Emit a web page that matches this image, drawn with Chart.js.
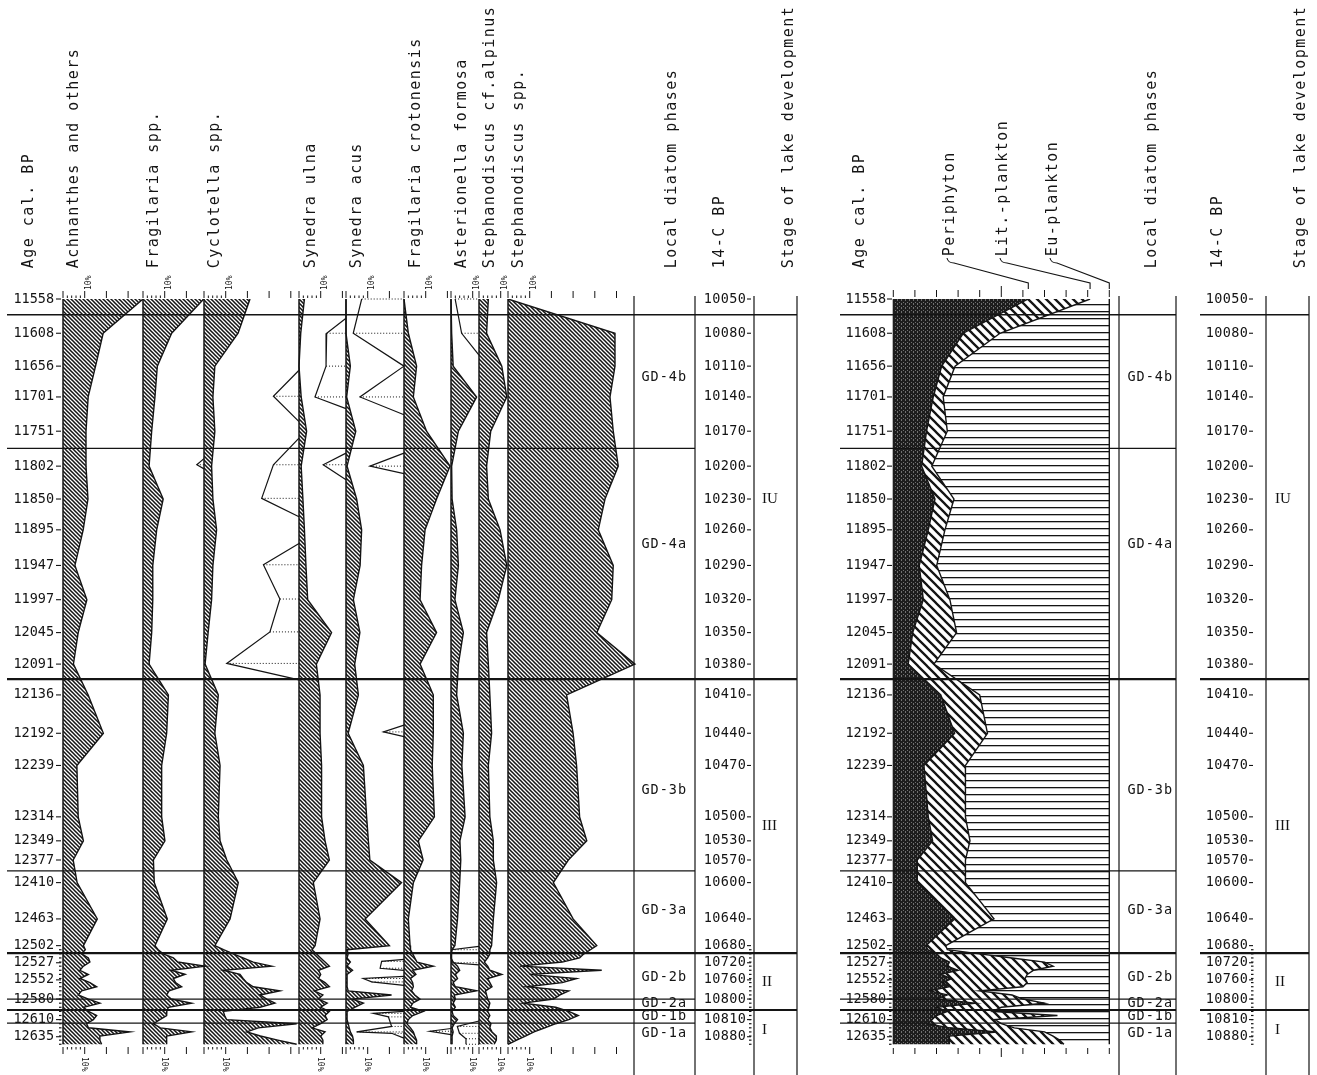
<!DOCTYPE html>
<html><head><meta charset="utf-8">
<script src="https://cdn.jsdelivr.net/npm/chart.js@4.4.1/dist/chart.umd.min.js"></script>
<style>html,body{margin:0;padding:0;background:#fff;}canvas{display:block;}</style>
</head><body>
<canvas id="c" width="1317" height="1075"></canvas>
<script>
// ---------------- DATA ----------------
const sampleAges = [11558,11608,11656,11701,11751,11802,11850,11895,11947,11997,12045,12091,12136,12192,12239,12314,12349,12377,12410,12463,12502,
 12508,12514,12520,12526,12532,12538,12544,12550,12556,12562,12568,12574,12580,12586,12592,12598,12604,12610,12616,12622,12628,12634,12640,12646];
const achnanthes = [36.9,18.5,15,11.6,10.6,10.6,11.5,9.3,5.5,11,7,4.8,11.6,18.6,6.4,7,9.4,4.7,6.5,15.8,9.4,
 10.3,8.6,11.7,12.4,9.4,7.8,11.7,7.8,12.4,15.5,8.6,7,11.7,17,9.4,11.7,15.5,14,10.9,11.7,30.8,17,17,17.8];
const fragilaria = [28,13.2,6.6,5.5,4,2.8,9.3,6.3,4.5,4.5,4,2.8,11.7,10.9,8.6,8.6,10.1,4.8,5.2,11.2,5.5,
 7,9.3,14,16,28.6,13,19.4,14,15,17.8,12,10.9,13,22.4,11.7,11,10.9,7.8,4.8,8,22.4,10.9,10.9,10.9];
const cyclotella = [21.2,15.7,5,4.1,5,3.5,4.1,5.8,4.1,3.5,1.9,0.5,6.6,5,7.4,6.6,7.4,10.5,15.8,12,5,
 9,13.5,18,22.7,31.2,8.9,16.6,18,19.7,22.7,35,25.8,28.9,32.7,25.8,8.9,9.5,10.4,42.7,25,19.7,26,34,42.7];
const synedraUlna = [2.5,0.8,0,1,3.5,1,1.8,2.5,3.2,4,15,8,9.7,9.7,10.4,10.4,12,14,6.6,9.7,7.4,
 6,8,10,12,14,9,10,9,12,14,7,11,9,13,10,14,12,13,10,6,12,10,11,11];
const synedraAcus = [0,0,2,0.3,4.5,0.5,4.9,7.2,6.5,3.4,6.4,4,5.7,1,8,9.5,10.3,11,25.6,8.8,20,
 0.5,1,0.5,2,0.5,3,0.5,0.5,0.5,0.5,1,21,3,8,4,0.5,0.5,0.5,1,1.5,2,3,3.4,3.4];
const fragCrotonensis = [0,2,5.8,4.3,10.4,21.2,15,9.7,8.1,7.4,15,7.4,13.5,13.5,13,14,6.6,8.8,4.3,2,2.8,
 3,4,5,6,13.5,4,5.5,3,4,4.3,3.5,5,7.4,4,3,9,4,2,1.3,3,4.3,5,5.8,5.8];
const asterionella = [0,0.3,1,11.8,3.4,0.3,0.5,2.6,3.4,1.8,5.7,3.4,2.6,5.7,5,6.5,4.1,4.5,4,3,1.8,
 0.5,0,0,1,3,4,2,3,1,2,11.8,1.5,2,1,2,0.5,1,3,1.5,0.5,1,0.5,0.5,0.5];
const stephAlpinus = [4.3,3.5,10.5,12.8,5.4,3.5,4.3,9.7,12.8,8.9,3.5,4.3,5,5.8,4.3,5,6.6,6.6,8.1,6.6,5.8,
 5,5,4,2.5,4,5,10.5,4,5,6,3,3.5,4,5,4.5,4,5,4,5.5,5,6,8,8,7];
const stephanodiscus = [0,49.3,49.3,47,48.5,50.8,44.7,41.6,48.5,47.8,40.9,58.5,27,30,31.6,33,36.3,27.8,20.9,30,40.9,
 38,35,33,25,5.5,43.2,10,31.6,25,8.6,28,24,21,7,22,28,32.4,28,22,17,12,8,4,0];

// ecological groups (right diagram), % of total
const periphyton = [62.5,32.4,22.4,18.5,15.4,13.1,19.3,16.2,12,13.9,9,6.9,22,28.4,14.2,16.2,18.2,11.1,11.1,28.4,15.1,
 16,20,22,26,25,30,22,27,23,26,17,25,20,38,20,25,20,18,16,26,48,26,26,26];
const litPlankton = [28.6,17,6.2,4.6,9.6,4.7,8.8,7.7,8.1,12.3,20.3,11.9,18,15.2,19.2,17.2,17.3,22.3,22.3,18.2,9.2,
 9,20,33,44,49,35,40,34,39,34,23,30,40,32,30,21,56,29,34,30,22,48,51,53];
const euPlankton = [8.9,50.6,71.4,76.9,75,82.2,71.9,76.1,79.9,73.8,70.7,81.2,60,56.4,66.6,66.6,64.5,66.6,66.6,53.4,75.7,
 75,60,45,30,26,35,38,39,38,40,60,45,40,30,50,54,24,53,50,44,30,26,23,21];

// x10 exaggeration outlines (drawn to the left of the baseline), null = break
const ulnaExagAges = [11662,11700,11737,null,11761,11800,11849,11876,null,11915,11946,11996,12044,12090,12114];
const ulnaExagVals = [0,-11.8,0,null,0,-11.8,-17.2,0,null,0,-16.4,-8.8,-13.4,-33.3,0];
const acusExagAges = [11586,11608,11656,11701,11718,null,11783,11800,11822];
const acusExagVals = [0,-8.9,-9.2,-14.3,0,null,0,-10.5,0];
const crotExagAges = [11558,11608,11656,11701,11727,null,11783,11802,11813,null,12180,12190,12197,null,12522,12525,12535,12538,null,12547,12550,12555,12560,null,12598,12601,12606,12620,12628,12630,12637];
const crotExagVals = [-19.5,-23.4,0,-20.3,0,null,0,-15.7,0,null,0,-9.5,0,null,0,-10.3,-11,0,null,0,-18.8,-14.9,0,null,0,-14.1,-7.2,-5.7,-21.8,-5.7,0];
const cycExagAges = [11791,11800,11806];
const cycExagVals = [0,-3.3,0];
const astExagAges = [12623,12627,12632];
const astExagVals = [0,-9.7,0];
const alpExagAges = [11558,11608,11640,null,12503,12508,12527,12530,null,12612,12620,12630,12638,12646];
const alpExagVals = [-11,-8,0,null,0,-12.6,-12.6,0,null,0,-10,-9,-6,-6];

// tick labels
const ageTickLabels = [11558,11608,11656,11701,11751,11802,11850,11895,11947,11997,12045,12091,12136,12192,12239,12314,12349,12377,12410,12463,12502,12527,12552,12580,12610,12635];
const c14Labels = [10050,10080,10110,10140,10170,10200,10230,10260,10290,10320,10350,10380,10410,10440,10470,10500,10530,10570,10600,10640,10680,10720,10760,10800,10810,10880];
const zoneBounds = [11581,11776,12113,12393,12513,12580,12596,12615];
const stageBounds = [11581,12113,12513,12596];
const phaseNames = ['GD-4b','GD-4a','GD-3b','GD-3a','GD-2b','GD-2a','GD-1b','GD-1a'];
const phaseLabelAges = [11672,11917,12275,12450,12549,12586,12606,12630];
const stageNames = ['IU','III','II','I'];
const stageLabelAges = [11850,12327,12555,12625];

// ---------------- LAYOUT / STYLE ----------------
const W = 1317, H = 1075, INK = '#141414';
const AGE_MIN = 11558, AGE_MAX = 12650;
const PX = 2.17;
const panels = [
 {key:'ach', name:'Achnanthes and others', values:achnanthes, base:63, ticks:[0,10,20,30], hx:74},
 {key:'fra', name:'Fragilaria spp.', values:fragilaria, base:143, ticks:[0,10,20], hx:154},
 {key:'cyc', name:'Cyclotella spp.', values:cyclotella, base:204, ticks:[0,10,20,30,40], hx:215},
 {key:'uln', name:'Synedra ulna', values:synedraUlna, base:299, ticks:[0,10,20], hx:311},
 {key:'acu', name:'Synedra acus', values:synedraAcus, base:346, ticks:[0,10,20], hx:357},
 {key:'cro', name:'Fragilaria crotonensis', values:fragCrotonensis, base:404, ticks:[0,10,20], hx:416},
 {key:'ast', name:'Asterionella formosa', values:asterionella, base:451, ticks:[0,10], hx:462},
 {key:'alp', name:'Stephanodiscus cf.alpinus', values:stephAlpinus, base:479, ticks:[0,10], hx:490},
 {key:'ste', name:'Stephanodiscus spp.', values:stephanodiscus, base:508, ticks:[0,10,20,30,40,50], hx:519}
];
const exags = [
 {key:'uln', ages:ulnaExagAges, vals:ulnaExagVals},
 {key:'acu', ages:acusExagAges, vals:acusExagVals},
 {key:'cro', ages:crotExagAges, vals:crotExagVals},
 {key:'cyc', ages:cycExagAges, vals:cycExagVals},
 {key:'ast', ages:astExagAges, vals:astExagVals},
 {key:'alp', ages:alpExagAges, vals:alpExagVals}
];
const GRP_BASE = 893.3, GRP_PX = 2.16;

// patterns
function diagPattern(s, lw, bg){
  const c = document.createElement('canvas'); c.width = c.height = s;
  const g = c.getContext('2d');
  g.fillStyle = bg; g.fillRect(0,0,s,s);
  g.strokeStyle = INK; g.lineWidth = lw; g.beginPath();
  g.moveTo(-1,-1); g.lineTo(s+1,s+1);
  g.moveTo(-1,s-1); g.lineTo(1,s+1);
  g.moveTo(s-1,-1); g.lineTo(s+1,1);
  g.stroke();
  return g.createPattern(c,'repeat');
}
function horizPattern(){
  const c = document.createElement('canvas'); c.width = 4; c.height = 7;
  const g = c.getContext('2d'); g.fillStyle='#fff'; g.fillRect(0,0,4,7);
  g.fillStyle = INK; g.fillRect(0,3,4,1.3);
  return g.createPattern(c,'repeat');
}
function darkPattern(){
  const c = document.createElement('canvas'); c.width = 4; c.height = 4;
  const g = c.getContext('2d'); g.fillStyle='#1d1d1d'; g.fillRect(0,0,4,4);
  g.fillStyle='#707070'; g.fillRect(1,0,1,1); g.fillRect(3,2,1,1); g.fillRect(1,3,1,1);
  return g.createPattern(c,'repeat');
}
const hatchTaxa = diagPattern(4, 1.55, '#fff');
const hatchLit = diagPattern(9, 2.3, '#fff');
const hatchEu = horizPattern();
const fillPeri = darkPattern();

// ---------------- SCALES ----------------
const scales = {
  y: {type:'linear', reverse:true, min:AGE_MIN, max:AGE_MAX, display:false}
};
panels.forEach(p => { scales['x_'+p.key] = {type:'linear', display:false, min:-p.base/PX, max:(W-p.base)/PX}; });
scales.x_grp = {type:'linear', display:false, min:-GRP_BASE/GRP_PX, max:(W-GRP_BASE)/GRP_PX};

// ---------------- DATASETS ----------------
const datasets = [];
const lastIdx = sampleAges.length - 1;
const NOLINE = 'rgba(0,0,0,0)';
function outline(xAxisID, pts, w){ return {data:pts, xAxisID, yAxisID:'y', fill:false, borderColor:INK, borderWidth:w, pointRadius:0}; }
function area(xAxisID, pts, pattern){ return {data:pts, xAxisID, yAxisID:'y', fill:'shape', backgroundColor:pattern, borderColor:NOLINE, borderWidth:0, pointRadius:0}; }

// exaggeration outlines (on top)
exags.forEach(e => {
  let seg = [];
  const flush = () => { if (seg.length) datasets.push(outline('x_'+e.key, seg, 1.2)); seg = []; };
  e.ages.forEach((a,i) => { if (a === null) flush(); else seg.push({x:e.vals[i], y:a}); });
  flush();
});
// taxa profile outlines
panels.forEach(p => datasets.push(outline('x_'+p.key, p.values.map((v,i)=>({x:v, y:sampleAges[i]})), 1.4)));
// group outlines
const cum1 = periphyton.map((v,i) => v + litPlankton[i]);
const cum2 = cum1.map((v,i) => v + euPlankton[i]);
datasets.push(outline('x_grp', periphyton.map((v,i)=>({x:v, y:sampleAges[i]})), 1.4));
datasets.push(outline('x_grp', cum1.map((v,i)=>({x:v, y:sampleAges[i]})), 1.4));
datasets.push(outline('x_grp', cum2.map((v,i)=>({x:v, y:sampleAges[i]})), 1.4));
// taxa areas
panels.forEach(p => {
  const pts = [{x:0, y:sampleAges[0]}].concat(p.values.map((v,i)=>({x:v, y:sampleAges[i]})), [{x:0, y:sampleAges[lastIdx]}]);
  datasets.push(area('x_'+p.key, pts, hatchTaxa));
});
// group areas
{
  const peri = [{x:0, y:sampleAges[0]}].concat(periphyton.map((v,i)=>({x:v, y:sampleAges[i]})), [{x:0, y:sampleAges[lastIdx]}]);
  const lit = cum1.map((v,i)=>({x:v, y:sampleAges[i]})).concat(periphyton.map((v,i)=>({x:v, y:sampleAges[i]})).reverse());
  const eu = cum2.map((v,i)=>({x:v, y:sampleAges[i]})).concat(cum1.map((v,i)=>({x:v, y:sampleAges[i]})).reverse());
  datasets.push(area('x_grp', eu, hatchEu));
  datasets.push(area('x_grp', lit, hatchLit));
  datasets.push(area('x_grp', peri, fillPeri));
}

// ---------------- DRAW HELPERS ----------------
function ln(g,x1,y1,x2,y2,w){ g.lineWidth=w; g.beginPath(); g.moveTo(x1,y1); g.lineTo(x2,y2); g.stroke(); }
function sText(g, str, x, y, adv, align, rot){
  g.save(); g.translate(x,y); if (rot) g.rotate(rot);
  const n = str.length, w = n*adv;
  const sx = align==='right' ? -w : (align==='center' ? -w/2 : 0);
  g.textAlign='center'; g.textBaseline='middle';
  for (let i=0;i<n;i++) if (str[i] !== ' ') g.fillText(str[i], sx + adv*(i+0.5), 0);
  g.restore();
}

const bgPlugin = {id:'bg', beforeDraw(c){ const g=c.ctx; g.save(); g.fillStyle='#fff'; g.fillRect(0,0,c.width,c.height); g.restore(); }};

const deco = {
  id:'deco',
  afterDatasetsDraw(chart){
    const g = chart.ctx, ys = chart.scales.y, Y = a => ys.getPixelForValue(a);
    const top = Y(AGE_MIN), bot = Y(sampleAges[lastIdx]);
    const denseAges = sampleAges.slice(21);
    g.save();
    g.strokeStyle = INK; g.fillStyle = INK;

    // exaggeration dotted sample lines
    exags.forEach(e => {
      const sx = chart.scales['x_'+e.key], x0 = sx.getPixelForValue(0);
      g.setLineDash([1,2]);
      e.ages.forEach((a,i) => { if (a !== null && e.vals[i] !== 0) ln(g, sx.getPixelForValue(e.vals[i]), Y(a), x0, Y(a), 1); });
      g.setLineDash([]);
    });

    // panel baselines, scale ticks, 10% labels
    g.font = '8px "DejaVu Sans Mono"';
    panels.forEach(p => {
      const sx = chart.scales['x_'+p.key], x0 = sx.getPixelForValue(0);
      ln(g, x0, top, x0, bot, 1.5);
      p.ticks.forEach(t => { const x = sx.getPixelForValue(t); ln(g,x,291,x,298,1); ln(g,x,1047,x,1054,1); });
      [2,4,6,8].forEach(t => { const x = sx.getPixelForValue(t); ln(g,x,295.5,x,298,1); ln(g,x,1047,x,1049.5,1); });
      const x10 = sx.getPixelForValue(10);
      g.save(); g.translate(x10+4, 290); g.rotate(-Math.PI/2); g.textAlign='left'; g.textBaseline='middle'; g.fillText('10%',0,0); g.restore();
      g.save(); g.translate(x10-1, 1057); g.rotate(Math.PI/2); g.textAlign='left'; g.textBaseline='middle'; g.fillText('10%',0,0); g.restore();
    });
    // group panel ticks
    const sg = chart.scales.x_grp;
    for (let t=0;t<=100;t+=10){ const x = sg.getPixelForValue(t); const big = t===50;
      ln(g,x,big?286:290,x,297,1); ln(g,x,1048,x,big?1057:1054,1); }
    ln(g, sg.getPixelForValue(0), top, sg.getPixelForValue(0), bot, 1.2);

    // zone lines
    zoneBounds.forEach(a => {
      const y = Y(a), isStage = stageBounds.includes(a), w = (isStage && a !== 11581) ? 2.2 : 1.3;
      ln(g, 7, y, isStage ? 797 : 695, y, w);
      ln(g, 840, y, 1176, y, w);
      if (isStage) ln(g, 1200, y, 1309, y, w);
    });
    // column verticals
    [634,695,754,797,1119,1176,1266,1309].forEach(x => ln(g, x, 296, x, 1075, 1.2));

    // age axis labels
    g.font = '13.5px "DejaVu Sans Mono"';
    ageTickLabels.forEach((a,i) => {
      const y = Y(a);
      sText(g, String(a), 54, y, 8.1, 'right');
      ln(g, 56, y, 61, y, 1.1);
      sText(g, String(a), 886, y, 8.1, 'right');
      ln(g, 887, y, 892, y, 1.1);
      sText(g, String(c14Labels[i]), 746, y, 8.5, 'right');
      ln(g, 747, y, 751, y, 1.1);
      sText(g, String(c14Labels[i]), 1248, y, 8.5, 'right');
      ln(g, 1249, y, 1253, y, 1.1);
    });
    denseAges.forEach(a => { const y = Y(a);
      ln(g, 59, y, 61.5, y, 1.2); ln(g, 889, y, 891.5, y, 1.2); ln(g, 749, y, 751.5, y, 1.2); ln(g, 1251, y, 1253.5, y, 1.2); });

    // phase labels
    g.font = '13.5px "DejaVu Sans Mono"';
    phaseNames.forEach((nm,i) => { const y = Y(phaseLabelAges[i]); sText(g, nm, 641, y, 9.1, 'left'); sText(g, nm, 1127, y, 9.1, 'left'); });
    // stage labels
    g.font = '15px "Liberation Serif"';
    g.textAlign='left'; g.textBaseline='middle';
    stageNames.forEach((nm,i) => { const y = Y(stageLabelAges[i]); g.fillText(nm, 762, y); g.fillText(nm, 1275, y); });

    // headers
    g.font = '15px "DejaVu Sans Mono"';
    const R = -Math.PI/2;
    sText(g, 'Age cal. BP', 29, 269, 10.5, 'left', R);
    panels.forEach(p => sText(g, p.name, p.hx, 269, 10.5, 'left', R));
    sText(g, 'Local diatom phases', 672, 269, 10.5, 'left', R);
    sText(g, '14-C BP', 720, 269, 10.5, 'left', R);
    sText(g, 'Stage of lake development', 789, 269, 10.5, 'left', R);
    sText(g, 'Age cal. BP', 860, 269, 10.5, 'left', R);
    sText(g, 'Local diatom phases', 1152, 269, 10.5, 'left', R);
    sText(g, '14-C BP', 1218, 269, 10.5, 'left', R);
    sText(g, 'Stage of lake development', 1301, 269, 10.5, 'left', R);
    const grpLabels = [['Periphyton', 950, periphyton[0]], ['Lit.-plankton', 1003, cum1[0]], ['Eu-plankton', 1053, cum2[0]]];
    grpLabels.forEach(([nm, x, v]) => {
      sText(g, nm, x, 257, 10.5, 'left', R);
      const tx = sg.getPixelForValue(v);
      g.lineWidth = 1.1; g.beginPath(); g.moveTo(x-3, 258); g.quadraticCurveTo(x-2, 263, x+4, 263);
      g.lineTo(tx, 283); g.lineTo(tx, 289); g.stroke();
    });
    g.restore();
  }
};

new Chart(document.getElementById('c'), {
  type:'line',
  data:{datasets},
  options:{
    indexAxis:'y',
    responsive:false, animation:false, devicePixelRatio:1, events:[],
    layout:{padding:{left:0, right:0, top:299, bottom:28}},
    plugins:{legend:{display:false}, tooltip:{enabled:false}, filler:{propagate:false}},
    elements:{point:{radius:0}, line:{tension:0, borderJoinStyle:'miter'}},
    scales
  },
  plugins:[bgPlugin, deco]
});
</script>
</body></html>
